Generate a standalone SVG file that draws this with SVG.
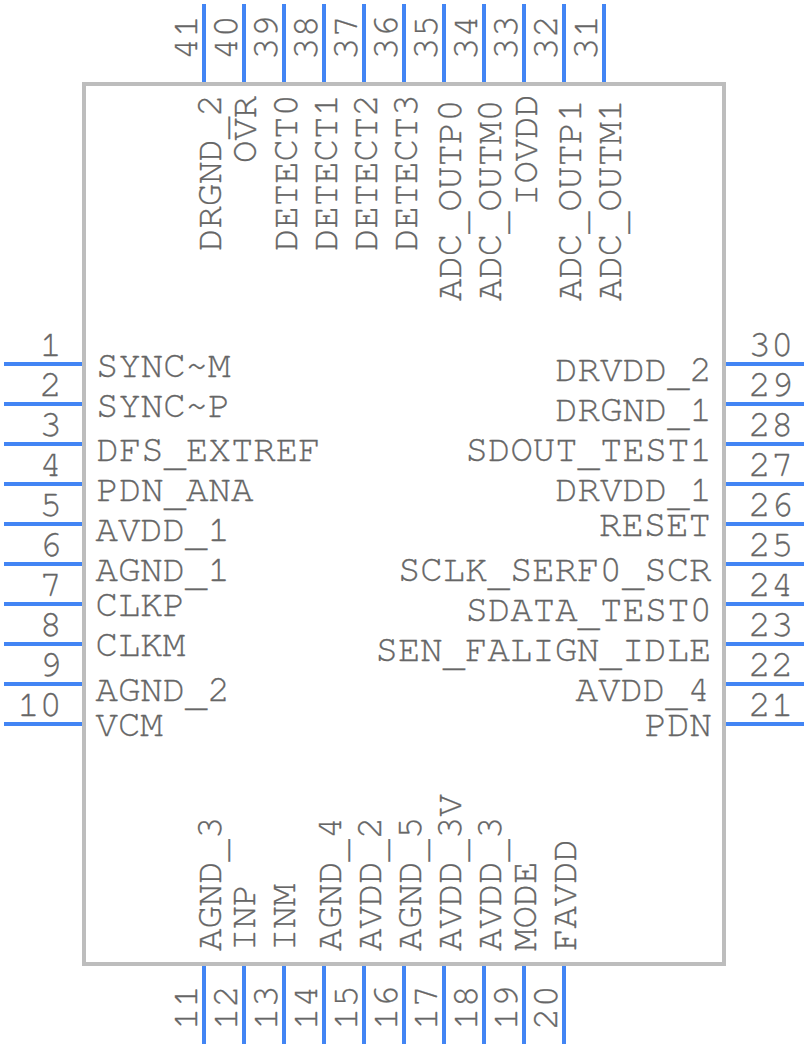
<svg xmlns="http://www.w3.org/2000/svg" width="808" height="1048" viewBox="0 0 808 1048">
<style>
text{font-family:"Nimbus Mono PS","FreeMono","Courier","Liberation Mono",monospace;font-size:37.33px;fill:#666;stroke:#666;stroke-width:.3}
.e{text-anchor:end}
#connectors line{stroke:#4285f4;stroke-width:4}
</style>
<rect id="body" x="84" y="84" width="640" height="880" fill="#fff" stroke="#bdbdbd" stroke-width="4"/>
<g id="connectors">
<line x1="4" y1="364" x2="82" y2="364"/><line x1="4" y1="404" x2="82" y2="404"/><line x1="4" y1="444" x2="82" y2="444"/><line x1="4" y1="484" x2="82" y2="484"/><line x1="4" y1="524" x2="82" y2="524"/><line x1="4" y1="564" x2="82" y2="564"/><line x1="4" y1="604" x2="82" y2="604"/><line x1="4" y1="644" x2="82" y2="644"/><line x1="4" y1="684" x2="82" y2="684"/><line x1="4" y1="724" x2="82" y2="724"/>
<line x1="726" y1="364" x2="804" y2="364"/><line x1="726" y1="404" x2="804" y2="404"/><line x1="726" y1="444" x2="804" y2="444"/><line x1="726" y1="484" x2="804" y2="484"/><line x1="726" y1="524" x2="804" y2="524"/><line x1="726" y1="564" x2="804" y2="564"/><line x1="726" y1="604" x2="804" y2="604"/><line x1="726" y1="644" x2="804" y2="644"/><line x1="726" y1="684" x2="804" y2="684"/><line x1="726" y1="724" x2="804" y2="724"/>
<line x1="204" y1="4" x2="204" y2="82"/><line x1="244" y1="4" x2="244" y2="82"/><line x1="284" y1="4" x2="284" y2="82"/><line x1="324" y1="4" x2="324" y2="82"/><line x1="364" y1="4" x2="364" y2="82"/><line x1="404" y1="4" x2="404" y2="82"/><line x1="444" y1="4" x2="444" y2="82"/><line x1="484" y1="4" x2="484" y2="82"/><line x1="524" y1="4" x2="524" y2="82"/><line x1="564" y1="4" x2="564" y2="82"/><line x1="604" y1="4" x2="604" y2="82"/>
<line x1="204" y1="966" x2="204" y2="1044"/><line x1="244" y1="966" x2="244" y2="1044"/><line x1="284" y1="966" x2="284" y2="1044"/><line x1="324" y1="966" x2="324" y2="1044"/><line x1="364" y1="966" x2="364" y2="1044"/><line x1="404" y1="966" x2="404" y2="1044"/><line x1="444" y1="966" x2="444" y2="1044"/><line x1="484" y1="966" x2="484" y2="1044"/><line x1="524" y1="966" x2="524" y2="1044"/><line x1="564" y1="966" x2="564" y2="1044"/>
</g>
<g id="left">
<text class="e" x="62" y="356">1</text><text class="e" x="62" y="396">2</text><text class="e" x="62" y="436">3</text><text class="e" x="62" y="476">4</text><text class="e" x="62" y="516">5</text><text class="e" x="62" y="556">6</text><text class="e" x="62" y="596">7</text><text class="e" x="62" y="636">8</text><text class="e" x="62" y="676">9</text><text class="e" x="62" y="716">10</text>
<text x="96" y="377">SYNC~M</text><text x="96" y="417">SYNC~P</text><text x="96.500" y="461">DFS<tspan dy="5">_</tspan><tspan dy="-5">EXTREF</tspan></text><text x="96.500" y="501">PDN<tspan dy="5">_</tspan><tspan dy="-5">ANA</tspan></text><text x="95.500" y="541">AVDD<tspan dy="5">_</tspan><tspan dy="-5">1</tspan></text><text x="95.500" y="581">AGND<tspan dy="5">_</tspan><tspan dy="-5">1</tspan></text><text x="95.500" y="616">CLKP</text><text x="95.500" y="656">CLKM</text><text x="95.500" y="701">AGND<tspan dy="5">_</tspan><tspan dy="-5">2</tspan></text><text x="95.500" y="736">VCM</text>
</g>
<g id="right">
<text x="748.500" y="356">30</text><text x="748.500" y="396">29</text><text x="748.500" y="436">28</text><text x="748.500" y="476">27</text><text x="748.500" y="516">26</text><text x="748.500" y="556">25</text><text x="748.500" y="596">24</text><text x="748.500" y="636">23</text><text x="748.500" y="676">22</text><text x="748.500" y="716">21</text>
<text class="e" x="712" y="381">DRVDD<tspan dy="5">_</tspan><tspan dy="-5">2</tspan></text><text class="e" x="712" y="421">DRGND<tspan dy="5">_</tspan><tspan dy="-5">1</tspan></text><text class="e" x="712" y="461">SDOUT<tspan dy="5">_</tspan><tspan dy="-5">TEST1</tspan></text><text class="e" x="712" y="501">DRVDD<tspan dy="5">_</tspan><tspan dy="-5">1</tspan></text><text class="e" x="711" y="536">RESET</text><text class="e" x="711.500" y="581">SCLK<tspan dy="5">_</tspan><tspan dy="-5">SERF0</tspan><tspan dy="5">_</tspan><tspan dy="-5">SCR</tspan></text><text class="e" x="712" y="621">SDATA<tspan dy="5">_</tspan><tspan dy="-5">TEST0</tspan></text><text class="e" x="711.500" y="661">SEN<tspan dy="5">_</tspan><tspan dy="-5">FALIGN</tspan><tspan dy="5">_</tspan><tspan dy="-5">IDLE</tspan></text><text class="e" x="710" y="701">AVDD<tspan dy="5">_</tspan><tspan dy="-5">4</tspan></text><text class="e" x="712" y="736">PDN</text>
</g>
<g id="top">
<text transform="translate(197 60) rotate(-90)">41</text><text transform="translate(237 60) rotate(-90)">40</text><text transform="translate(277 60) rotate(-90)">39</text><text transform="translate(317 60) rotate(-90)">38</text><text transform="translate(357 60) rotate(-90)">37</text><text transform="translate(397 60) rotate(-90)">36</text><text transform="translate(437 60) rotate(-90)">35</text><text transform="translate(477 60) rotate(-90)">34</text><text transform="translate(517 60) rotate(-90)">33</text><text transform="translate(557 60) rotate(-90)">32</text><text transform="translate(597 60) rotate(-90)">31</text>
<text transform="translate(221 251) rotate(-90)">DRGND<tspan dy="5">_</tspan><tspan dy="-5">2</tspan></text><text transform="translate(256 163) rotate(-90)">OVR</text><text transform="translate(297 251) rotate(-90)">DETECT0</text><text transform="translate(337 251) rotate(-90)">DETECT1</text><text transform="translate(377 251) rotate(-90)">DETECT2</text><text transform="translate(417 251) rotate(-90)">DETECT3</text><text transform="translate(461 301) rotate(-90)">ADC<tspan dy="5">_</tspan><tspan dy="-5">OUTP0</tspan></text><text transform="translate(501 301) rotate(-90)">ADC<tspan dy="5">_</tspan><tspan dy="-5">OUTM0</tspan></text><text transform="translate(537 206) rotate(-90)">IOVDD</text><text transform="translate(581 301) rotate(-90)">ADC<tspan dy="5">_</tspan><tspan dy="-5">OUTP1</tspan></text><text transform="translate(621 301) rotate(-90)">ADC<tspan dy="5">_</tspan><tspan dy="-5">OUTM1</tspan></text>
</g>
<g id="bottom">
<text transform="translate(197 1030) rotate(-90)">11</text><text transform="translate(237 1030) rotate(-90)">12</text><text transform="translate(277 1030) rotate(-90)">13</text><text transform="translate(317 1030) rotate(-90)">14</text><text transform="translate(357 1030) rotate(-90)">15</text><text transform="translate(397 1030) rotate(-90)">16</text><text transform="translate(437 1030) rotate(-90)">17</text><text transform="translate(477 1030) rotate(-90)">18</text><text transform="translate(517 1030) rotate(-90)">19</text><text transform="translate(557 1030) rotate(-90)">20</text>
<text transform="translate(221 951) rotate(-90)">AGND<tspan dy="5">_</tspan><tspan dy="-5">3</tspan></text><text transform="translate(255 951) rotate(-90)">INP</text><text transform="translate(295 951) rotate(-90)">INM</text><text transform="translate(341 951) rotate(-90)">AGND<tspan dy="5">_</tspan><tspan dy="-5">4</tspan></text><text transform="translate(381 951) rotate(-90)">AVDD<tspan dy="5">_</tspan><tspan dy="-5">2</tspan></text><text transform="translate(421 951) rotate(-90)">AGND<tspan dy="5">_</tspan><tspan dy="-5">5</tspan></text><text transform="translate(461 951) rotate(-90)">AVDD<tspan dy="5">_</tspan><tspan dy="-5">3V</tspan></text><text transform="translate(501 951) rotate(-90)">AVDD<tspan dy="5">_</tspan><tspan dy="-5">3</tspan></text><text transform="translate(536 951) rotate(-90)">MODE</text><text transform="translate(576 951) rotate(-90)">FAVDD</text>
</g>
</svg>
